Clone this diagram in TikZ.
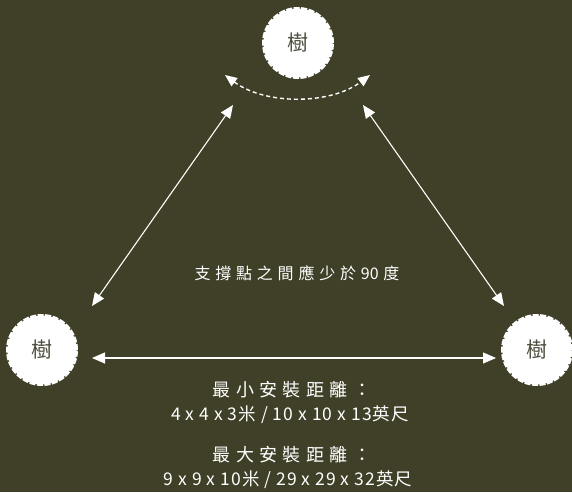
\documentclass[tikz,border=0pt]{standalone}
\usepackage{fontspec}
\newfontfamily\cjk{Noto Sans CJK TC}
\newfontfamily\cjksp[LetterSpace=30]{Noto Sans CJK TC}
\newfontfamily\cjknum[LetterSpace=6]{Noto Sans CJK TC}
\usetikzlibrary{arrows.meta}
\definecolor{bg}{HTML}{3F4027}
\definecolor{treetxt}{HTML}{4E4E3E}
\tikzset{
  tree/.style={circle, fill=white, draw=white, line width=3pt, dash pattern=on 6pt off 1.5pt, minimum size=69pt, inner sep=0pt, font=\cjk\fontsize{21}{21}\selectfont, text=treetxt},
  link/.style={draw=white, line width=1.1pt, {Triangle[length=13pt,width=11pt]}-{Triangle[length=13pt,width=11pt]}},
  swing/.style={draw=white, line width=1.4pt, dash pattern=on 4pt off 3pt, {Triangle[length=12pt,width=10pt]}-{Triangle[length=12pt,width=10pt]}},
  lbl/.style={text=white, inner sep=0pt}
}
\begin{document}
\begin{tikzpicture}[x=1pt,y=-1pt]
\fill[bg] (0,0) rectangle (572,492);
\useasboundingbox (0,0) rectangle (572,492);
\node[tree] (top) at (298,43) {樹};
\node[tree] (left) at (42,350) {樹};
\node[tree] (right) at (537,350) {樹};
\coordinate (s1) at (225,75);
\coordinate (s2) at (370,75);
\coordinate (l1) at (233,105);
\coordinate (l2) at (92,306);
\coordinate (r1) at (363,105);
\coordinate (r2) at (504,306);
\coordinate (h1) at (92,358);
\coordinate (h2) at (496,358);
\draw[swing] (s1) .. controls (265,105) and (330,105) .. (s2);
\draw[link] (l1) -- (l2);
\draw[link] (r1) -- (r2);
\draw[link] (h1) -- (h2);
\node[lbl, font=\cjksp\fontsize{16}{16}\selectfont] (angle) at (297,273) {支撐點之間應少於\hspace{4.8pt}{\cjk 90}\hspace{4.8pt}度};
\node[lbl, font=\cjksp\fontsize{18}{18}\selectfont] (minh) at (292,390) {最小安裝距離：};
\node[lbl, font=\cjknum\fontsize{17.5}{17.5}\selectfont] (minv) at (290,415) {4 x 4 x 3米 / 10 x 10 x 13英尺};
\node[lbl, font=\cjksp\fontsize{18}{18}\selectfont] (maxh) at (292,455) {最大安裝距離：};
\node[lbl, font=\cjknum\fontsize{17.5}{17.5}\selectfont] (maxv) at (288,480) {9 x 9 x 10米 / 29 x 29 x 32英尺};
\end{tikzpicture}
\end{document}
